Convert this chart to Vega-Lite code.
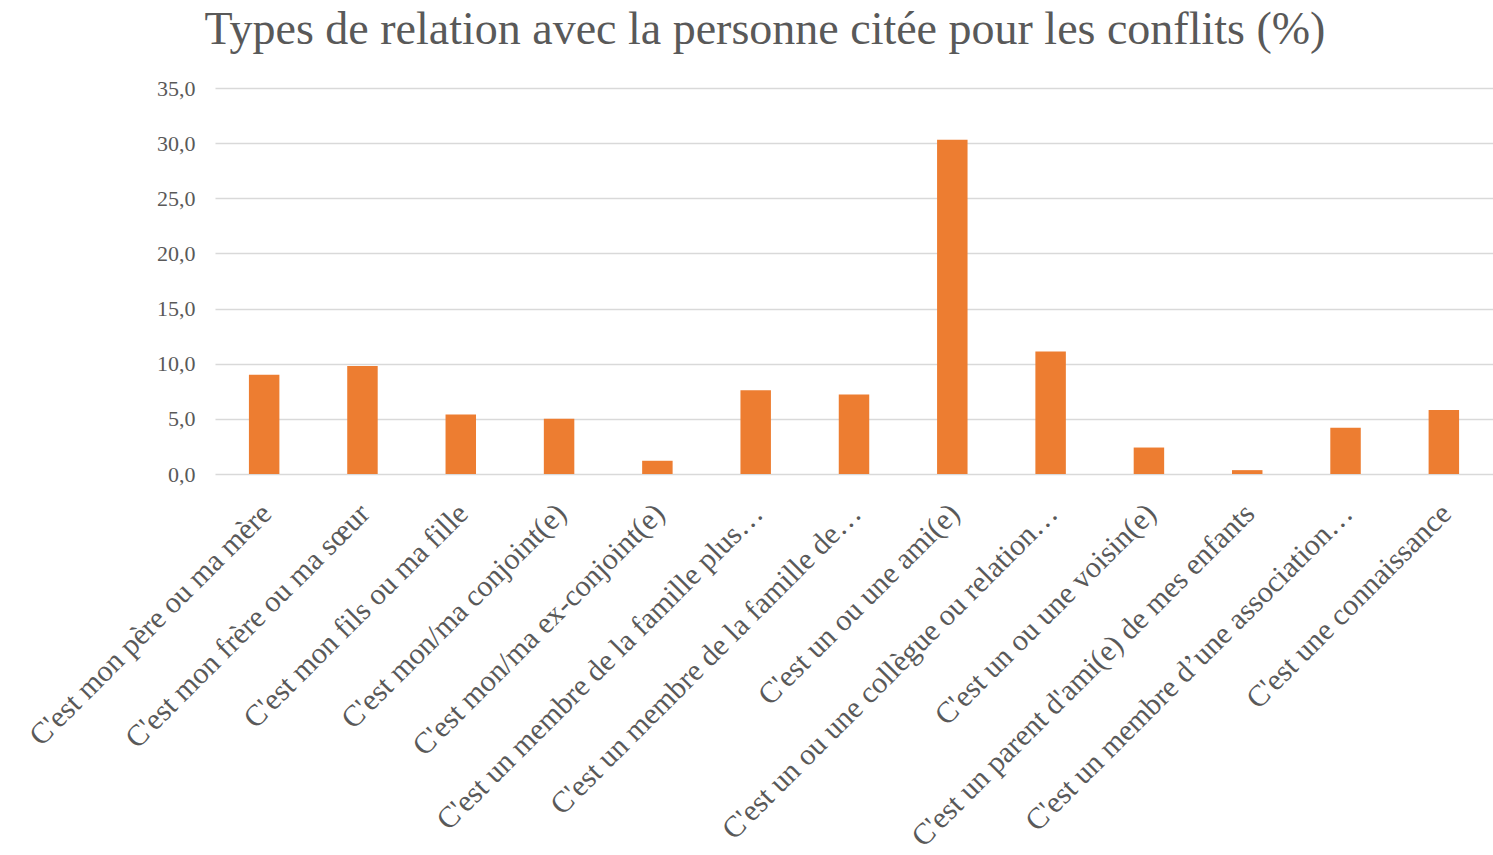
{
  "$schema": "https://vega.github.io/schema/vega-lite/v6.json",
  "autosize": {"type": "none"},
  "width": 1278,
  "height": 386,
  "padding": {"left": 215, "top": 88, "right": 0, "bottom": 381},
  "background": "white",
  "title": {
    "text": "Types de relation avec la personne citée pour les conflits (%)",
    "font": "Liberation Serif",
    "fontSize": 46,
    "fontWeight": "normal",
    "color": "#595959",
    "anchor": "middle",
    "dx": -89,
    "offset": 23
  },
  "data": {
    "values": [
      {"relation": "C'est mon père ou ma mère", "pct": 9.0},
      {"relation": "C'est mon frère ou ma sœur", "pct": 9.8},
      {"relation": "C'est mon fils ou ma fille", "pct": 5.4},
      {"relation": "C'est mon/ma conjoint(e)", "pct": 5.0},
      {"relation": "C'est mon/ma ex-conjoint(e)", "pct": 1.2},
      {"relation": "C'est un membre de la famille plus…", "pct": 7.6},
      {"relation": "C'est un membre de la famille de…", "pct": 7.2},
      {"relation": "C'est un ou une ami(e)", "pct": 30.3},
      {"relation": "C'est un ou une collègue ou relation…", "pct": 11.1},
      {"relation": "C'est un ou une voisin(e)", "pct": 2.4},
      {"relation": "C'est un parent d'ami(e) de mes enfants", "pct": 0.35},
      {"relation": "C'est un membre d’une association…", "pct": 4.2},
      {"relation": "C'est une connaissance", "pct": 5.8}
    ]
  },
  "mark": {"type": "bar", "color": "#ED7D31"},
  "encoding": {
    "x": {
      "field": "relation",
      "type": "nominal",
      "sort": null,
      "scale": {"paddingInner": 0.69, "paddingOuter": 0.345},
      "axis": {
        "title": null,
        "labelAngle": -45,
        "labelFont": "Liberation Serif",
        "labelFontSize": 30,
        "labelColor": "#595959",
        "labelPadding": 24,
        "labelOffset": -8,
        "labelLimit": 700,
        "ticks": false,
        "domain": false,
        "grid": false
      }
    },
    "y": {
      "field": "pct",
      "type": "quantitative",
      "scale": {"domain": [0, 35]},
      "axis": {
        "title": null,
        "values": [0, 5, 10, 15, 20, 25, 30, 35],
        "labelExpr": "replace(format(datum.value, '.1f'), '.', ',')",
        "labelFont": "Liberation Serif",
        "labelFontSize": 22,
        "labelColor": "#595959",
        "labelPadding": 20,
        "ticks": false,
        "domain": false,
        "gridColor": "#D9D9D9",
        "gridWidth": 1.5
      }
    }
  },
  "config": {"view": {"stroke": null}}
}
